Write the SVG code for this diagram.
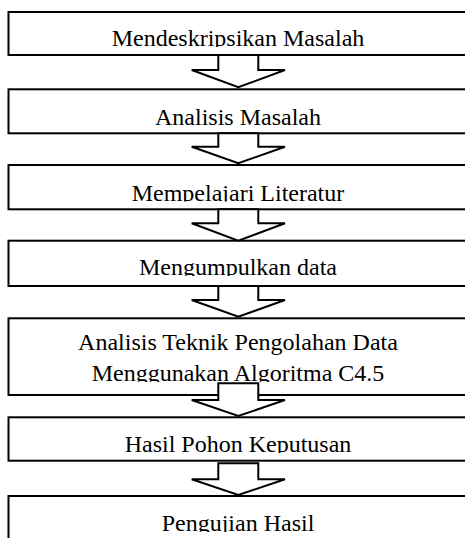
<svg xmlns="http://www.w3.org/2000/svg" width="465" height="538" viewBox="0 0 465 538">
<style>
.box{fill:#fff;stroke:#000;stroke-width:2}
.arr{fill:#fff;stroke:#000;stroke-width:2;stroke-linejoin:miter}
.t{font-family:"Liberation Serif","Times New Roman",serif;font-size:24px;fill:#000;text-anchor:middle}
</style>
<defs>
<clipPath id="c1"><rect x="0" y="14" width="465" height="33"/></clipPath>
<clipPath id="c2"><rect x="0" y="91" width="465" height="35"/></clipPath>
<clipPath id="c3"><rect x="0" y="167" width="465" height="34.5"/></clipPath>
<clipPath id="c4"><rect x="0" y="243" width="465" height="33"/></clipPath>
<clipPath id="c5"><rect x="0" y="320" width="465" height="62"/></clipPath>
<clipPath id="c6"><rect x="0" y="419" width="465" height="34"/></clipPath>
<clipPath id="c7"><rect x="0" y="498" width="465" height="34"/></clipPath>
</defs>
<g id="n1"><rect class="box" x="8.5" y="12" width="470" height="43"/><text class="t" x="238" y="46" clip-path="url(#c1)">Mendeskripsikan Masalah</text></g>
<g id="n2"><rect class="box" x="8.5" y="89.3" width="470" height="44"/><text class="t" x="238" y="125" clip-path="url(#c2)">Analisis Masalah</text></g>
<g id="n3"><rect class="box" x="8.5" y="165" width="470" height="44.3"/><text class="t" x="238" y="200.5" clip-path="url(#c3)">Mempelajari Literatur</text></g>
<g id="n4"><rect class="box" x="8.5" y="240.7" width="470" height="45.3"/><text class="t" x="238" y="275" clip-path="url(#c4)">Mengumpulkan data</text></g>
<g id="n5"><rect class="box" x="8.5" y="318.3" width="470" height="76.7"/><text class="t" x="238" y="350" clip-path="url(#c5)">Analisis Teknik Pengolahan Data</text><text class="t" x="238" y="381" clip-path="url(#c5)">Menggunakan Algoritma C4.5</text></g>
<g id="n6"><rect class="box" x="8.5" y="417.3" width="470" height="43.4"/><text class="t" x="238" y="452" clip-path="url(#c6)">Hasil Pohon Keputusan</text></g>
<g id="n7"><rect class="box" x="8.5" y="496" width="470" height="60"/><text class="t" x="238" y="531" clip-path="url(#c7)">Pengujian Hasil</text></g>
<g id="connectors">
<polygon class="arr" points="218.3,55 258.3,55 258.3,70 285,70 238.3,87.3 191.7,70 218.3,70"/>
<polygon class="arr" points="218.3,133.3 258.3,133.3 258.3,146.7 285,146.7 238.3,163.3 191.7,146.7 218.3,146.7"/>
<polygon class="arr" points="218.3,209.3 258.3,209.3 258.3,223.3 285,223.3 238.3,240.7 191.7,223.3 218.3,223.3"/>
<polygon class="arr" points="218.3,286 258.3,286 258.3,300 285,300 238.3,316.7 191.7,300 218.3,300"/>
<polygon class="arr" points="218.3,383.3 258.3,383.3 258.3,400 285,400 238.3,416 191.7,400 218.3,400"/>
<polygon class="arr" points="218.3,463.3 258.3,463.3 258.3,479.3 285,479.3 238.3,495 191.7,479.3 218.3,479.3"/>
</g>
</svg>
